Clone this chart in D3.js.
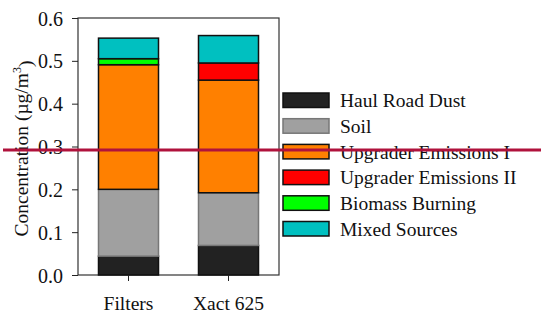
<!DOCTYPE html>
<html>
<head>
<meta charset="utf-8">
<script src="https://cdn.jsdelivr.net/npm/d3@7"></script>
<style>
  body { margin: 0; background: #fff; }
  svg text { font-family: "Liberation Serif", "Times New Roman", serif; fill: #111; }
</style>
</head>
<body>
<div id="chart"></div>
<script>
// data
let categories = ["Filters", "Xact 625"]
let sources = ["Haul Road Dust", "Soil", "Upgrader Emissions I", "Upgrader Emissions II", "Biomass Burning", "Mixed Sources"]
let haulRoadDust = [0.044, 0.069]
let soil = [0.156, 0.123]
let upgraderI = [0.291, 0.263]
let upgraderII = [0.0, 0.040]
let biomass = [0.014, 0.0]
let mixed = [0.048, 0.064]
let yTicks = [0.0, 0.1, 0.2, 0.3, 0.4, 0.5, 0.6]
let refLine = 0.292

let colors = ["#222222", "#a0a0a0", "#ff8000", "#ff0000", "#00ff00", "#00c0c0"]
let strokes = ["#111", "#777", "#111", "#111", "#111", "#111"]

let width = 542, height = 314
let margin = { top: 18, right: 263, bottom: 39, left: 78 }

let svg = d3.select("#chart").append("svg")
  .attr("width", width)
  .attr("height", height)

let x = d3.scaleBand()
  .domain(categories)
  .range([margin.left, width - margin.right])
  .paddingInner(0.4)
  .paddingOuter(0.205)

let y = d3.scaleLinear()
  .domain([0, 0.6])
  .range([height - margin.bottom, margin.top])

// build rows for stacking
let series = [haulRoadDust, soil, upgraderI, upgraderII, biomass, mixed]
let rows = categories.map((c, i) => {
  let r = { cat: c }
  sources.forEach((s, j) => { r[s] = series[j][i] })
  return r
})
let stacked = d3.stack().keys(sources)(rows)

// frame
svg.append("rect")
  .attr("x", margin.left)
  .attr("y", margin.top)
  .attr("width", width - margin.right - margin.left)
  .attr("height", height - margin.bottom - margin.top)
  .attr("fill", "none")
  .attr("stroke", "#333")
  .attr("stroke-width", 1.2)

// bars
stacked.forEach((layer, j) => {
  svg.append("g").selectAll("rect")
    .data(layer.filter(d => d[1] - d[0] > 0))
    .enter()
    .append("rect")
    .attr("x", d => x(d.data.cat))
    .attr("y", d => y(d[1]))
    .attr("width", x.bandwidth())
    .attr("height", d => y(d[0]) - y(d[1]))
    .attr("fill", colors[j])
    .attr("stroke", strokes[j])
    .attr("stroke-width", 1.5)
})

// axes
let gY = svg.append("g")
  .attr("transform", "translate(" + margin.left + ",0)")
  .call(d3.axisLeft(y).tickValues(yTicks).tickFormat(d3.format(".1f")).tickSize(6).tickSizeOuter(0).tickPadding(9))
gY.select(".domain").remove()
gY.selectAll("line").attr("stroke", "#222")
gY.selectAll("text").style("font-size", "20px").attr("dy", "0.35em")

let gX = svg.append("g")
  .attr("transform", "translate(0," + (height - margin.bottom) + ")")
  .call(d3.axisBottom(x).tickSize(6).tickSizeOuter(0).tickPadding(15))
gX.select(".domain").remove()
gX.selectAll("line").attr("stroke", "#222")
gX.selectAll("text").style("font-size", "19.5px")

// y label
let yl = svg.append("text")
  .attr("transform", "translate(28," + ((margin.top + height - margin.bottom) / 2 + 2) + ") rotate(-90)")
  .attr("text-anchor", "middle")
  .style("font-size", "19.5px")
yl.append("tspan").text("Concentration (µg/m")
yl.append("tspan").text("3").attr("dy", "-0.55em").style("font-size", "12px")
yl.append("tspan").text(")").attr("dy", "0.55em")

// legend
let legend = svg.append("g")
  .attr("transform", "translate(283,93)")
let item = legend.selectAll("g")
  .data(sources)
  .enter()
  .append("g")
  .attr("transform", (d, i) => "translate(0," + i * 25.7 + ")")
item.append("rect")
  .attr("width", 46)
  .attr("height", 14.5)
  .attr("fill", (d, i) => colors[i])
  .attr("stroke", (d, i) => strokes[i])
  .attr("stroke-width", 1.5)
item.append("text")
  .attr("x", 57)
  .attr("y", 7.5)
  .attr("dy", "0.35em")
  .style("font-size", "19.5px")
  .text(d => d)

// crimson reference line across the picture
svg.append("line")
  .attr("x1", 3)
  .attr("x2", width - 1)
  .attr("y1", y(refLine))
  .attr("y2", y(refLine))
  .attr("stroke", "#b0123c")
  .attr("stroke-width", 3)
</script>
</body>
</html>
